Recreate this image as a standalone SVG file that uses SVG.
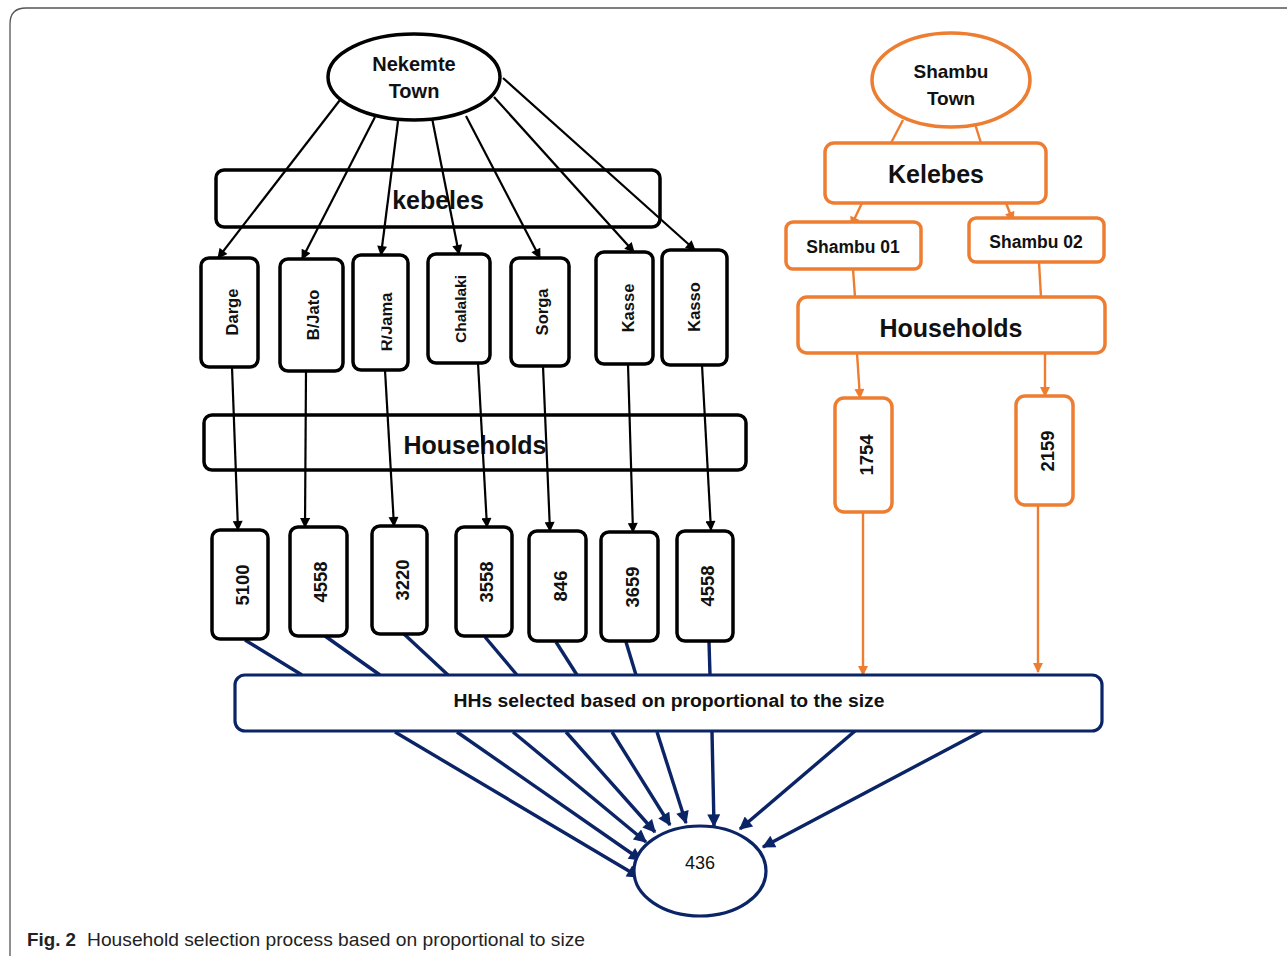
<svg xmlns="http://www.w3.org/2000/svg" width="1287" height="956" viewBox="0 0 1287 956">
  <style>
    .t { font-family: "Liberation Sans", Arial, sans-serif; font-weight: bold; fill: #111; text-anchor: middle; dominant-baseline: central; }
    .blk { fill: #fff; stroke: #000; stroke-width: 3.5; }
    .org { fill: #fff; stroke: #ED7D31; stroke-width: 3.5; }
    .nav { fill: #fff; stroke: #0b2466; stroke-width: 3.2; }
    .cb { stroke: #000; stroke-width: 2.2; fill: none; marker-end: url(#ab); }
    .co { stroke: #ED7D31; stroke-width: 2.4; fill: none; }
    .coa { stroke: #ED7D31; stroke-width: 2.4; fill: none; marker-end: url(#ao); }
    .cn { stroke: #0b2466; stroke-width: 3.4; fill: none; }
    .cna { stroke: #0b2466; stroke-width: 3.4; fill: none; marker-end: url(#an); }
    .big { font-size: 25px; }
    .kl { font-size: 16.5px; }
    .nm { font-size: 18.5px; }
  </style>
  <defs>
    <marker id="ab" viewBox="0 0 10 10" refX="9" refY="5" markerWidth="11" markerHeight="10" markerUnits="userSpaceOnUse" orient="auto">
      <path d="M0,0 L10,5 L0,10 z" fill="#000"/>
    </marker>
    <marker id="ao" viewBox="0 0 10 10" refX="9" refY="5" markerWidth="11" markerHeight="10" markerUnits="userSpaceOnUse" orient="auto">
      <path d="M0,0 L10,5 L0,10 z" fill="#ED7D31"/>
    </marker>
    <marker id="an" viewBox="0 0 10 10" refX="9" refY="5" markerWidth="14" markerHeight="13" markerUnits="userSpaceOnUse" orient="auto">
      <path d="M0,0 L10,5 L0,10 z" fill="#0b2466"/>
    </marker>
    <clipPath id="rjClip"><rect x="381.5" y="250" width="40" height="130"/></clipPath>
  </defs>

  <rect width="1287" height="956" fill="#fff"/>
  <!-- figure frame -->
  <path d="M10,956 V24 Q10,8 26,8 H1287" fill="none" stroke="#555" stroke-width="1.3"/>

  <!-- Nekemte branch: large labelled bands sit behind the arrows -->
  <g id="kebeles-band">
    <rect class="blk" x="216" y="170" width="444" height="57" rx="8"/>
    <text class="t big" x="438" y="200">kebeles</text>
  </g>
  <g id="households-band">
    <rect class="blk" x="204" y="415" width="542" height="55" rx="8"/>
    <text class="t big" x="475" y="445">Households</text>
  </g>

  <g id="connectors">
    <!-- Nekemte to kebeles -->
    <line class="cb" x1="340" y1="100" x2="218" y2="258"/>
    <line class="cb" x1="375" y1="117" x2="302" y2="259"/>
    <line class="cb" x1="398" y1="121" x2="381" y2="255"/>
    <line class="cb" x1="432" y1="118" x2="459" y2="254"/>
    <line class="cb" x1="466" y1="116" x2="540" y2="258"/>
    <line class="cb" x1="494" y1="97" x2="634" y2="252"/>
    <line class="cb" x1="503" y1="78" x2="695" y2="250"/>
    <!-- kebeles to household counts -->
    <line class="cb" x1="232" y1="367" x2="238" y2="530"/>
    <line class="cb" x1="306" y1="371" x2="305" y2="527"/>
    <line class="cb" x1="385" y1="370" x2="394" y2="526"/>
    <line class="cb" x1="478" y1="363" x2="487" y2="527"/>
    <line class="cb" x1="543" y1="366" x2="550" y2="531"/>
    <line class="cb" x1="628" y1="364" x2="633" y2="532"/>
    <line class="cb" x1="702" y1="365" x2="711" y2="530"/>
    <!-- counts to selection box -->
    <line class="cn" x1="245" y1="640" x2="302" y2="675"/>
    <line class="cn" x1="325" y1="636" x2="380" y2="675"/>
    <line class="cn" x1="404" y1="634" x2="448" y2="675"/>
    <line class="cn" x1="485" y1="637" x2="517" y2="675"/>
    <line class="cn" x1="556" y1="642" x2="577" y2="675"/>
    <line class="cn" x1="626" y1="642" x2="636" y2="675"/>
    <line class="cn" x1="709" y1="642" x2="710" y2="675"/>
    <!-- Shambu branch -->
    <line class="co" x1="903" y1="120" x2="891" y2="143"/>
    <line class="co" x1="975" y1="124" x2="981" y2="143"/>
    <line class="coa" x1="862" y1="203" x2="851" y2="226"/>
    <line class="coa" x1="1006" y1="203" x2="1013" y2="221"/>
    <line class="co" x1="853" y1="269" x2="855" y2="297"/>
    <line class="co" x1="1039" y1="262" x2="1041" y2="297"/>
    <line class="coa" x1="857" y1="353" x2="860" y2="398"/>
    <line class="coa" x1="1045" y1="353" x2="1045" y2="396"/>
    <line class="coa" x1="863" y1="512" x2="863" y2="675"/>
    <line class="coa" x1="1038" y1="505" x2="1038" y2="672"/>
    <!-- selection box to sample total -->
    <line class="cna" x1="395" y1="732" x2="639" y2="877"/>
    <line class="cna" x1="457" y1="732" x2="641" y2="860"/>
    <line class="cna" x1="513" y1="732" x2="646" y2="842"/>
    <line class="cna" x1="566" y1="732" x2="655" y2="832"/>
    <line class="cna" x1="612" y1="732" x2="670" y2="825"/>
    <line class="cna" x1="657" y1="732" x2="686" y2="823"/>
    <line class="cna" x1="712" y1="732" x2="714" y2="826"/>
    <line class="cna" x1="855" y1="731" x2="740" y2="829"/>
    <line class="cna" x1="982" y1="731" x2="763" y2="847"/>
  </g>

  <g id="nekemte">
    <ellipse class="blk" cx="414" cy="77" rx="86" ry="43"/>
    <text class="t" x="414" y="64" font-size="20">Nekemte</text>
    <text class="t" x="414" y="91" font-size="20">Town</text>
  </g>

  <g id="k-darge"><rect class="blk" x="201" y="258" width="57" height="109" rx="8"/><text class="t kl" transform="translate(232,312) rotate(-90)">Darge</text></g>
  <g id="k-bjato"><rect class="blk" x="280" y="259" width="63" height="112" rx="8"/><text class="t kl" transform="translate(313,315) rotate(-90)">B/Jato</text></g>
  <g id="k-rjama"><rect class="blk" x="353" y="255" width="55" height="115" rx="8"/><g clip-path="url(#rjClip)"><text class="t kl" transform="translate(386,322) rotate(-90)">R/Jama</text></g></g>
  <g id="k-chalalaki"><rect class="blk" x="428" y="254" width="62" height="109" rx="8"/><text class="t" font-size="15.5" transform="translate(460,309) rotate(-90)">Chalalaki</text></g>
  <g id="k-sorga"><rect class="blk" x="511" y="258" width="58" height="108" rx="8"/><text class="t kl" transform="translate(542,312) rotate(-90)">Sorga</text></g>
  <g id="k-kasse"><rect class="blk" x="596" y="252" width="57" height="112" rx="8"/><text class="t kl" transform="translate(628,308) rotate(-90)">Kasse</text></g>
  <g id="k-kasso"><rect class="blk" x="662" y="250" width="65" height="115" rx="8"/><text class="t kl" transform="translate(694,307) rotate(-90)">Kasso</text></g>

  <g id="n-5100"><rect class="blk" x="212" y="530" width="56" height="109" rx="8"/><text class="t nm" transform="translate(242,585) rotate(-90)">5100</text></g>
  <g id="n-4558a"><rect class="blk" x="290" y="527" width="57" height="109" rx="8"/><text class="t nm" transform="translate(320,582) rotate(-90)">4558</text></g>
  <g id="n-3220"><rect class="blk" x="372" y="526" width="55" height="108" rx="8"/><text class="t nm" transform="translate(402,580) rotate(-90)">3220</text></g>
  <g id="n-3558"><rect class="blk" x="456" y="527" width="56" height="109" rx="8"/><text class="t nm" transform="translate(486,582) rotate(-90)">3558</text></g>
  <g id="n-846"><rect class="blk" x="529" y="531" width="57" height="110" rx="8"/><text class="t nm" transform="translate(560,586) rotate(-90)">846</text></g>
  <g id="n-3659"><rect class="blk" x="601" y="532" width="57" height="109" rx="8"/><text class="t nm" transform="translate(632,587) rotate(-90)">3659</text></g>
  <g id="n-4558b"><rect class="blk" x="677" y="531" width="56" height="110" rx="8"/><text class="t nm" transform="translate(707,586) rotate(-90)">4558</text></g>

  <g id="shambu">
    <ellipse class="org" cx="951" cy="80" rx="79" ry="47"/>
    <text class="t" x="951" y="71" font-size="19">Shambu</text>
    <text class="t" x="951" y="98" font-size="19">Town</text>
  </g>
  <g id="kelebes">
    <rect class="org" x="825" y="143" width="221" height="60" rx="9"/>
    <text class="t big" x="936" y="174">Kelebes</text>
  </g>
  <g id="shambu01">
    <rect class="org" x="786" y="222" width="135" height="47" rx="7"/>
    <text class="t" x="853" y="247" font-size="17.5">Shambu 01</text>
  </g>
  <g id="shambu02">
    <rect class="org" x="969" y="218" width="135" height="44" rx="7"/>
    <text class="t" x="1036" y="242" font-size="17.5">Shambu 02</text>
  </g>
  <g id="shambu-households">
    <rect class="org" x="798" y="297" width="307" height="56" rx="9"/>
    <text class="t big" x="951" y="328">Households</text>
  </g>
  <g id="n-1754"><rect class="org" x="835" y="398" width="57" height="114" rx="9"/><text class="t nm" transform="translate(866,455) rotate(-90)">1754</text></g>
  <g id="n-2159"><rect class="org" x="1016" y="396" width="57" height="109" rx="9"/><text class="t nm" transform="translate(1047,451) rotate(-90)">2159</text></g>

  <g id="selection">
    <rect class="nav" x="235" y="675" width="867" height="56" rx="10"/>
    <text class="t" x="669" y="701" font-size="18" textLength="431" lengthAdjust="spacingAndGlyphs">HHs selected based on proportional to the size</text>
  </g>
  <g id="sample-total">
    <ellipse class="nav" cx="700" cy="871" rx="66" ry="45"/>
    <text x="700" y="863" font-family="Liberation Sans, Arial, sans-serif" font-size="18" fill="#111" text-anchor="middle" dominant-baseline="central">436</text>
  </g>

  <g id="caption" font-family="Liberation Sans, Arial, sans-serif" font-size="19" fill="#222">
    <text x="27" y="946" font-weight="bold" textLength="49" lengthAdjust="spacingAndGlyphs">Fig. 2</text>
    <text x="87" y="946" textLength="498" lengthAdjust="spacingAndGlyphs">Household selection process based on proportional to size</text>
  </g>
</svg>
